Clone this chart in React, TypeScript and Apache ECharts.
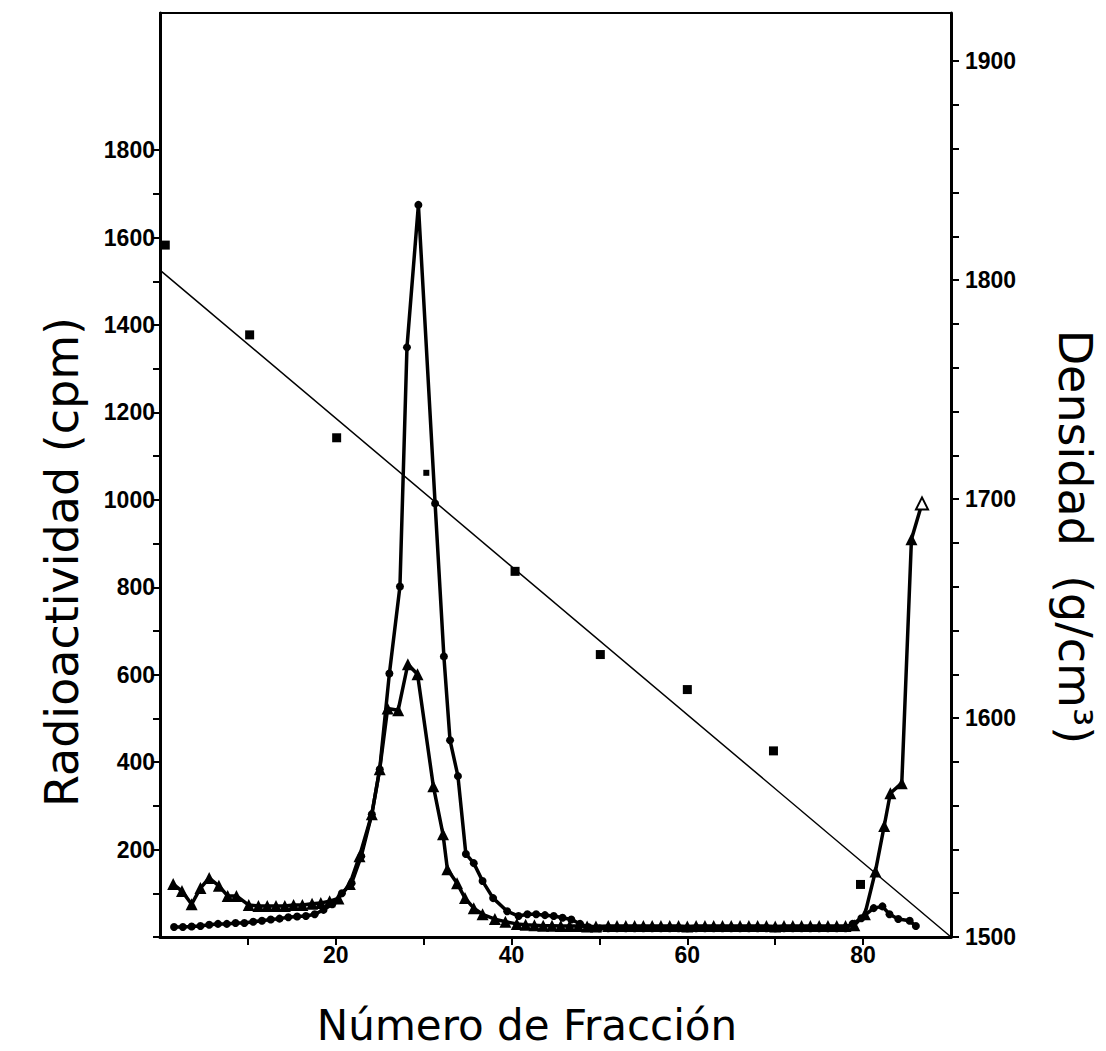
import React, { useEffect, useRef } from "react";
import * as echarts from "echarts";

// Radioactivity (cpm) – series with filled circles
const circleFrac = [1.6, 2.6, 3.6, 4.6, 5.6, 6.6, 7.6, 8.6, 9.6, 10.6, 11.6, 12.6, 13.6, 14.6, 15.6, 16.6, 17.6, 18.6, 19.6, 20.7, 21.8, 22.9, 24.1, 25, 26.1, 27.3, 28.1, 29.4, 31.3, 32.3, 33, 33.9, 34.8, 35.7, 36.7, 37.9, 39.5, 40.8, 41.8, 42.8, 43.8, 44.8, 45.8, 46.8, 47.8, 48.8, 50, 51, 52, 53, 54, 55, 56, 57, 58, 59, 60, 61, 62, 63, 64, 65, 66, 67, 68, 69, 70, 71, 72, 73, 74, 75, 76, 77, 78, 78.8, 79.8, 81.2, 82.2, 83, 84, 85.3, 86];
const circleCpm = [23, 23, 24, 25, 28, 30, 30, 32, 32, 35, 37, 40, 42, 45, 47, 48, 52, 62, 75, 100, 123, 185, 281, 384, 603, 802, 1349, 1675, 992, 642, 450, 368, 190, 169, 128, 89, 59, 48, 52, 52, 50, 48, 44, 40, 30, 22, 20, 20, 20, 20, 20, 20, 20, 20, 20, 20, 20, 20, 20, 20, 20, 20, 20, 20, 20, 20, 20, 20, 20, 20, 20, 20, 20, 20, 20, 30, 43, 66, 70, 52, 41, 37, 25];

// Radioactivity (cpm) – series with triangles
const triFrac = [1.5, 2.5, 3.6, 4.6, 5.6, 6.7, 7.7, 8.7, 10.1, 11.2, 12.2, 13.2, 14.2, 15.2, 16.2, 17.3, 18.3, 19.3, 20.3, 21.6, 22.7, 24.1, 25, 25.9, 27.1, 28.2, 29.3, 31.1, 32.2, 32.7, 33.8, 34.7, 35.7, 36.7, 38.1, 39.3, 40.6, 41.6, 42.6, 43.6, 44.6, 45.6, 46.6, 47.6, 48.6, 49.6, 51, 52, 53, 54, 55, 56, 57, 58, 59, 60, 61, 62, 63, 64, 65, 66, 67, 68, 69, 70, 71, 72, 73, 74, 75, 76, 77, 78, 79, 80.2, 81.4, 82.4, 83.1, 84.4, 85.5, 86.7];
const triCpm = [121, 105, 75, 112, 135, 117, 94, 94, 73, 71, 71, 71, 71, 73, 73, 76, 78, 82, 88, 121, 185, 281, 384, 523, 519, 624, 601, 345, 235, 155, 123, 89, 66, 52, 41, 35, 30, 28, 27, 26, 26, 25, 25, 25, 24, 24, 25, 25, 25, 25, 25, 25, 25, 25, 25, 24, 25, 25, 25, 25, 25, 25, 25, 25, 25, 24, 25, 25, 25, 25, 25, 25, 25, 25, 27, 52, 150, 254, 329, 352, 910, 992];

// Density (g/cm3) measured points
const densFrac = [0.6, 10.2, 20.1, 30.3, 40.4, 50.1, 60, 69.8, 79.7];
const densVal = [1816, 1775, 1728, 1712, 1667, 1629, 1613, 1585, 1524];

// Density fitted line
const fitFrac = [0, 90];
const fitVal = [1804.6, 1500];

// Tick values
const xTicks = [10, 20, 30, 40, 50, 60, 70, 80];
const xLabels = [20, 40, 60, 80];
const leftTicks = [0, 100, 200, 300, 400, 500, 600, 700, 800, 900, 1000, 1100, 1200, 1300, 1400, 1500, 1600, 1700, 1800];
const leftLabels = [200, 400, 600, 800, 1000, 1200, 1400, 1600, 1800];
const rightTicks = [1500, 1520, 1540, 1560, 1580, 1600, 1620, 1640, 1660, 1680, 1700, 1720, 1740, 1760, 1780, 1800, 1820, 1840, 1860, 1880, 1900];
const rightLabels = [1500, 1600, 1700, 1800, 1900];

const xName = "Número de Fracción";
const leftName = "Radioactividad (cpm)";
const rightName = "Densidad  (g/cm³)";

const zip = (a: number[], b: number[]) => a.map((v, i) => [v, b[i]]);

export default function App() {
  const ref = useRef<HTMLDivElement>(null);
  useEffect(() => {
    document.body.style.margin = "0";
    if (!ref.current) return;
    const chart = echarts.init(ref.current, null, { renderer: "svg" });
    const tickFont = {
      fontFamily: "Liberation Sans",
      fontWeight: "bold",
      fontSize: 23,
      color: "#000",
      formatter: (v: number) => String(v),
    };
    const nameFont = "DejaVu Sans";
    const lastTri = triFrac.length - 1;
    chart.setOption({
      animation: false,
      backgroundColor: "#fff",
      grid: { left: 160, right: 155, top: 13, bottom: 114 },
      xAxis: [
        {
          type: "value",
          min: 0,
          max: 90,
          position: "bottom",
          axisLine: { onZero: false, lineStyle: { color: "#000", width: 3 } },
          axisTick: { show: true, length: 8, lineStyle: { color: "#000", width: 2 }, customValues: xTicks },
          axisLabel: { ...tickFont, margin: 6, customValues: xLabels },
          splitLine: { show: false },
        },
        {
          type: "value",
          min: 0,
          max: 90,
          position: "top",
          axisLine: { show: true, onZero: false, lineStyle: { color: "#000", width: 2 } },
          axisTick: { show: false },
          axisLabel: { show: false },
          splitLine: { show: false },
        },
      ],
      yAxis: [
        {
          type: "value",
          min: 0,
          max: 2114,
          position: "left",
          axisLine: { show: true, onZero: false, lineStyle: { color: "#000", width: 3 } },
          axisTick: { show: true, length: 7, lineStyle: { color: "#000", width: 2 }, customValues: leftTicks },
          axisLabel: { ...tickFont, margin: 5, customValues: leftLabels },
          splitLine: { show: false },
        },
        {
          type: "value",
          min: 1500,
          max: 1922,
          position: "right",
          axisLine: { show: true, onZero: false, lineStyle: { color: "#000", width: 3 } },
          axisTick: { show: true, length: 8, lineStyle: { color: "#000", width: 2 }, customValues: rightTicks },
          axisLabel: { ...tickFont, margin: 14, customValues: rightLabels },
          splitLine: { show: false },
        },
      ],
      graphic: [
        {
          type: "text",
          x: 527,
          y: 1025,
          style: { text: xName, fontFamily: nameFont, fontSize: 42, fill: "#000", textAlign: "center", textVerticalAlign: "middle" },
        },
        {
          type: "text",
          x: 62,
          y: 562,
          rotation: Math.PI / 2,
          style: { text: leftName, fontFamily: nameFont, fontSize: 46, fill: "#000", textAlign: "center", textVerticalAlign: "middle" },
        },
        {
          type: "text",
          x: 1075,
          y: 537,
          rotation: -Math.PI / 2,
          style: { text: rightName, fontFamily: nameFont, fontSize: 46, fill: "#000", textAlign: "center", textVerticalAlign: "middle" },
        },
      ],
      series: [
        {
          name: "fit",
          type: "line",
          yAxisIndex: 1,
          data: zip(fitFrac, fitVal),
          symbol: "none",
          lineStyle: { color: "#000", width: 1.5 },
          silent: true,
        },
        {
          name: "density",
          type: "scatter",
          yAxisIndex: 1,
          data: zip(densFrac, densVal),
          symbol: "rect",
          symbolSize: (_v: any, p: any) => (p.dataIndex === 3 ? 6 : 9),
          itemStyle: { color: "#000", opacity: 1 },
        },
        {
          name: "circles",
          type: "line",
          yAxisIndex: 0,
          data: zip(circleFrac, circleCpm),
          symbol: "circle",
          symbolSize: 8,
          showAllSymbol: true,
          itemStyle: { color: "#000" },
          lineStyle: { color: "#000", width: 3.5 },
        },
        {
          name: "triangles",
          type: "line",
          yAxisIndex: 0,
          data: zip(triFrac, triCpm).map((d, i) =>
            i === lastTri ? { value: d, itemStyle: { color: "#fff", borderColor: "#000", borderWidth: 2 } } : d
          ),
          symbol: "triangle",
          symbolSize: 12,
          showAllSymbol: true,
          itemStyle: { color: "#000" },
          lineStyle: { color: "#000", width: 3.5 },
        },
      ],
    });
    return () => chart.dispose();
  }, []);
  return <div ref={ref} style={{ width: 1106, height: 1051 }} />;
}
